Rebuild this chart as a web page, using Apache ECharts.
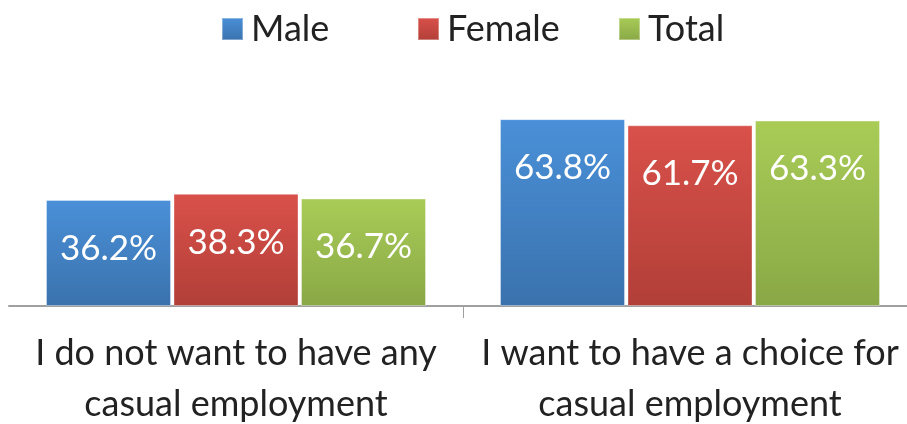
<!DOCTYPE html>
<html>
<head>
<meta charset="utf-8">
<script src="https://cdn.jsdelivr.net/npm/echarts@6/dist/echarts.min.js"></script>
<style>
  html, body { margin: 0; padding: 0; background: #ffffff; }
  #chart { width: 907px; height: 424px; }
</style>
</head>
<body>
<div id="chart"></div>
<script>
// Attitudes towards casual employment, by gender (%)
var categories = [
  'I do not want to have any\ncasual employment',
  'I want to have a choice for\ncasual employment'
];
var seriesNames = ['Male', 'Female', 'Total'];
var maleValues = [36.2, 63.8];
var femaleValues = [38.3, 61.7];
var totalValues = [36.7, 63.3];

var FONT = 'Lato, "Open Sans", sans-serif';

function grad(top, bottom) {
  return new echarts.graphic.LinearGradient(0, 0, 0, 1, [
    { offset: 0, color: top },
    { offset: 1, color: bottom }
  ]);
}

var palette = {
  Male: grad('#4a90d8', '#3a72ad'),
  Female: grad('#d9514a', '#b13f38'),
  Total: grad('#a9cc57', '#89a846')
};

function barSeries(name, values) {
  return {
    name: name,
    type: 'bar',
    data: values,
    barWidth: 125,
    barGap: '2%',
    itemStyle: {
      color: palette[name],
      borderColor: 'rgba(255,255,255,0.35)',
      borderWidth: 1
    },
    label: {
      show: true,
      position: 'insideTop',
      distance: 31,
      color: '#ffffff',
      fontFamily: FONT,
      fontSize: 35,
      formatter: function (p) { return p.value.toFixed(1) + '%'; }
    }
  };
}

function legendAt(name, left) {
  return {
    data: [name],
    left: left,
    top: 6,
    itemWidth: 21,
    itemHeight: 22,
    itemGap: 0,
    icon: 'rect',
    textStyle: { fontFamily: FONT, fontSize: 36, color: '#222222', padding: [0, 0, 0, 3] }
  };
}

var chart = echarts.init(document.getElementById('chart'), null, { renderer: 'canvas' });
chart.setOption({
  animation: false,
  backgroundColor: '#ffffff',
  color: ['#4a90d8', '#d9514a', '#a9cc57'],
  legend: [legendAt('Male', 216), legendAt('Female', 412), legendAt('Total', 613)],
  grid: {
    left: 9, width: 908, top: 101, bottom: 118,
    containLabel: false,
    outerBoundsMode: 'none'
  },
  xAxis: [
    {
      type: 'category',
      data: categories,
      axisLine: { show: true, lineStyle: { color: '#a0a0a0', width: 2 } },
      axisTick: { show: false },
      axisLabel: {
        fontFamily: FONT,
        fontSize: 36,
        color: '#222222',
        margin: 22,
        lineHeight: 51,
        interval: 0
      }
    },
    {
      // helper axis: a single divider tick between the two categories
      type: 'value',
      position: 'bottom',
      min: 0,
      max: 2,
      interval: 1,
      axisLine: { show: false },
      axisLabel: { show: false },
      splitLine: { show: false },
      axisTick: {
        show: true,
        inside: false,
        length: 12,
        customValues: [1],
        lineStyle: { color: '#a0a0a0', width: 1 }
      }
    }
  ],
  yAxis: {
    type: 'value',
    min: 0,
    max: 70,
    interval: 10,
    show: false,
    splitLine: { show: false }
  },
  series: [
    barSeries(seriesNames[0], maleValues),
    barSeries(seriesNames[1], femaleValues),
    barSeries(seriesNames[2], totalValues)
  ]
});
</script>
</body>
</html>
